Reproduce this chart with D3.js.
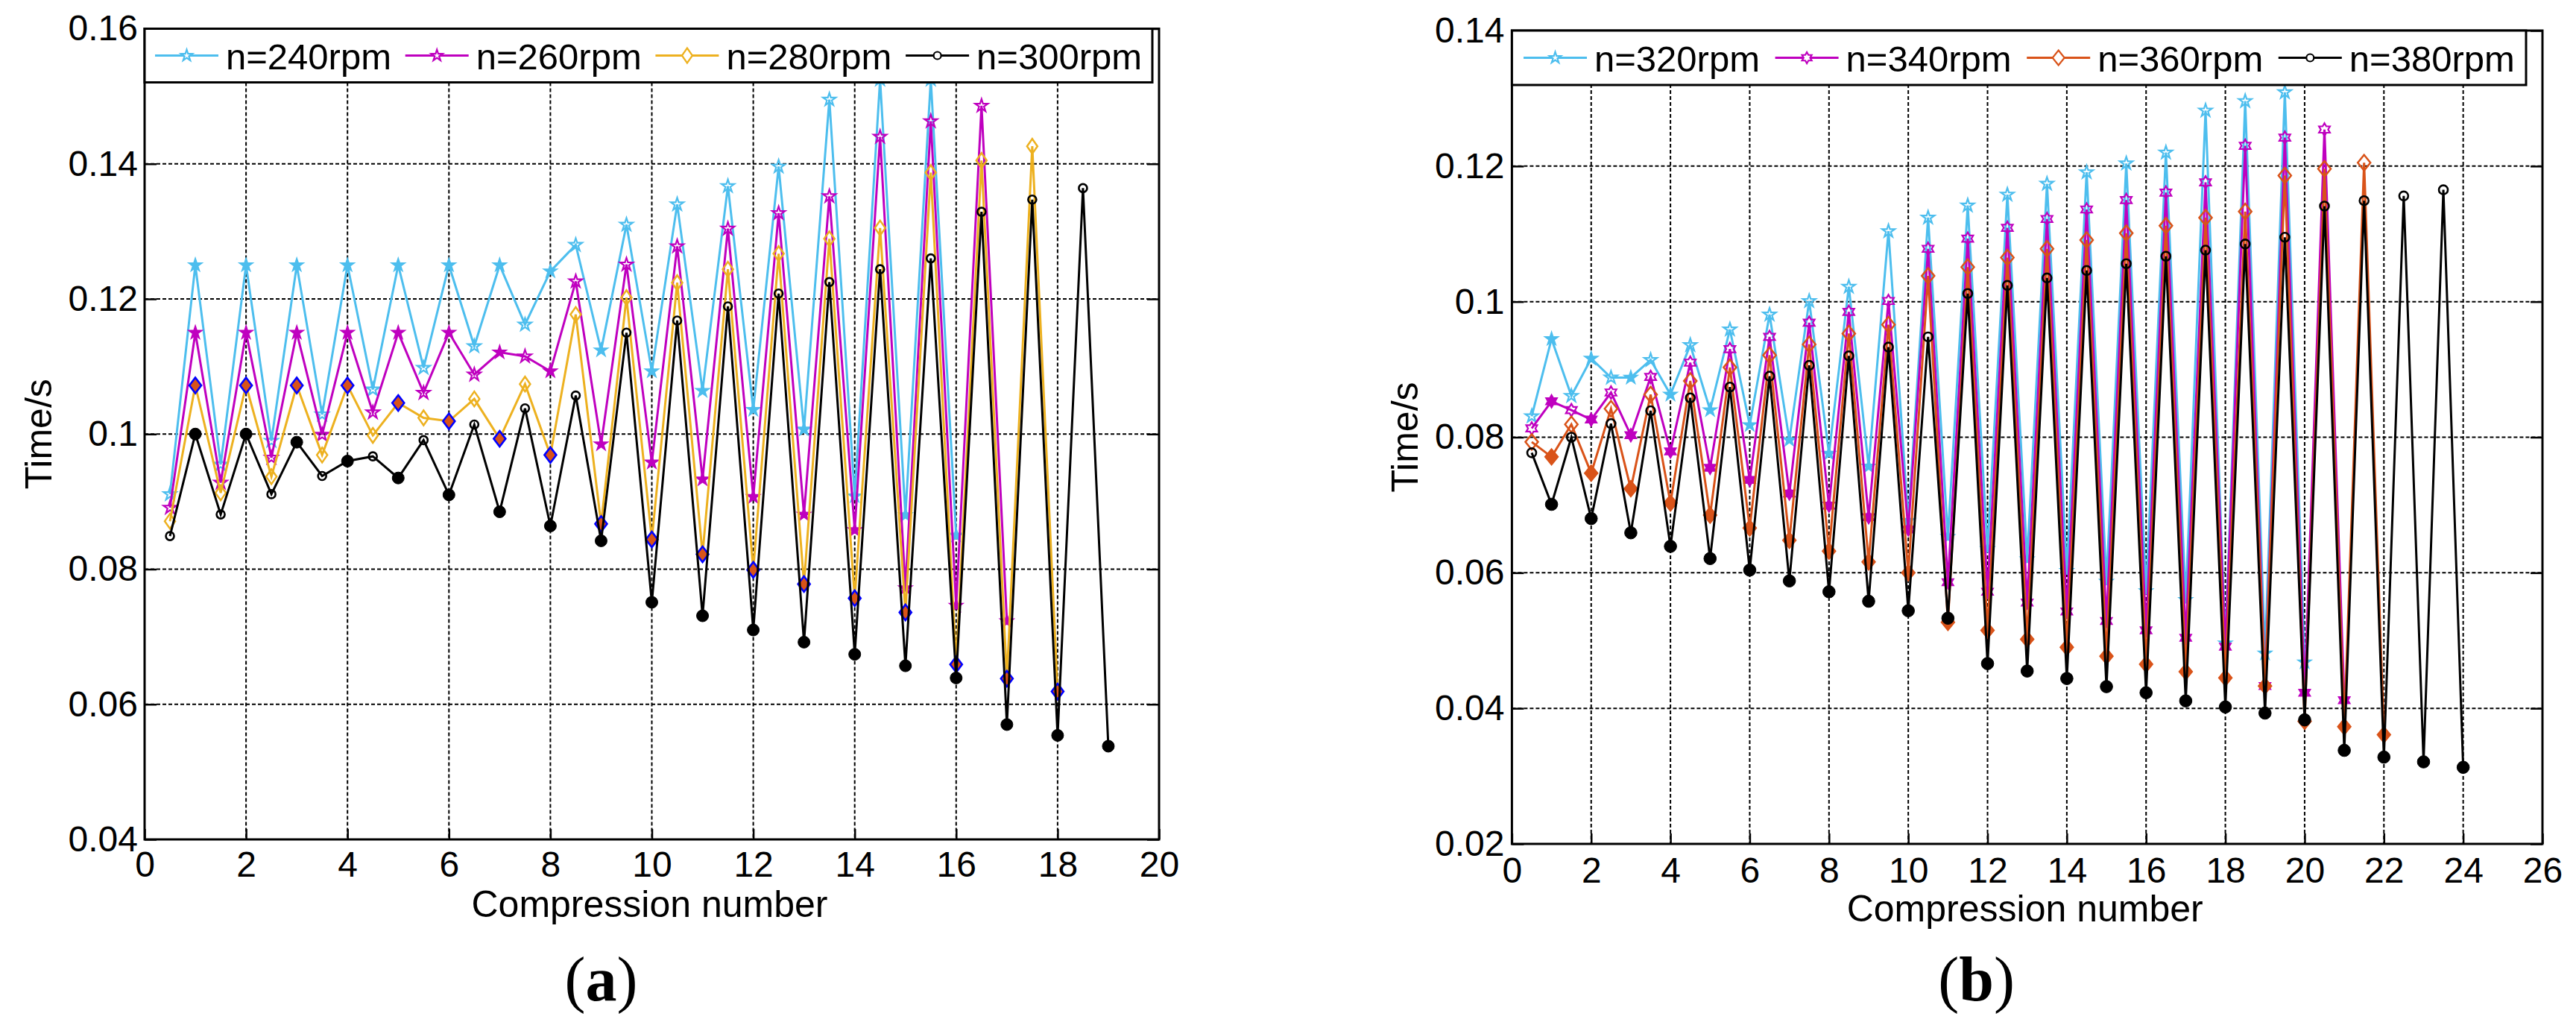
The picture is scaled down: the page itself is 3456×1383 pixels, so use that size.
<!DOCTYPE html>
<html><head><meta charset="utf-8">
<script src="https://cdn.jsdelivr.net/npm/d3@7"></script>
<style>body{margin:0;background:#fff}</style>
</head><body>
<svg id="chart" width="3456" height="1383"></svg>
<script>
// ---------- DATA ----------
const compressionA = [0.5,1,1.5,2,2.5,3,3.5,4,4.5,5,5.5,6,6.5,7,7.5,8,8.5,9,9.5,10,10.5,11,11.5,12,12.5,13,13.5,14,14.5,15,15.5,16,16.5,17,17.5,18,18.5,19];
const compressionB = [0.5,1,1.5,2,2.5,3,3.5,4,4.5,5,5.5,6,6.5,7,7.5,8,8.5,9,9.5,10,10.5,11,11.5,12,12.5,13,13.5,14,14.5,15,15.5,16,16.5,17,17.5,18,18.5,19,19.5,20,20.5,21,21.5,22,22.5,23,23.5,24];

const legendA = ["n=240rpm","n=260rpm","n=280rpm","n=300rpm"];
const legendB = ["n=320rpm","n=340rpm","n=360rpm","n=380rpm"];

const time240 = [0.0911,0.125,0.0955,0.125,0.0990,0.125,0.1029,0.125,0.1066,0.125,0.1098,0.125,0.1130,0.125,0.1162,0.1241,0.1280,0.1124,0.1310,0.1093,0.1340,0.1064,0.1367,0.1036,0.1396,0.1007,0.1495,0.0908,0.1525,0.0880,0.1525,0.0850];
const time260 = [0.0891,0.115,0.0928,0.115,0.0965,0.115,0.0999,0.115,0.1032,0.115,0.1061,0.115,0.1088,0.1121,0.1115,0.1093,0.1226,0.0985,0.1251,0.0958,0.1278,0.0933,0.1304,0.0907,0.1327,0.0881,0.1352,0.0858,0.1440,0.0772,0.1463,0.0746,0.1486,0.0723];
const time280 = [0.0871,0.1072,0.0913,0.1072,0.0937,0.1072,0.0969,0.1072,0.0998,0.1046,0.1024,0.1019,0.1052,0.0993,0.1074,0.0969,0.1177,0.0867,0.1202,0.0844,0.1224,0.0822,0.1244,0.0799,0.1267,0.0778,0.1289,0.0757,0.1305,0.0736,0.1387,0.0659,0.1405,0.0638,0.1426,0.0619];
const time300 = [0.0849,0.1000,0.0881,0.1000,0.0911,0.0988,0.0938,0.0960,0.0967,0.0935,0.0991,0.0910,0.1014,0.0885,0.1038,0.0864,0.1057,0.0842,0.1150,0.0751,0.1168,0.0731,0.1189,0.0710,0.1208,0.0692,0.1225,0.0674,0.1244,0.0657,0.1260,0.0639,0.1329,0.0570,0.1347,0.0554,0.1364,0.0538];

const time320 = [0.0831,0.0945,0.0861,0.0916,0.0888,0.0888,0.0914,0.0863,0.0936,0.0840,0.0959,0.0818,0.0981,0.0796,0.1001,0.0776,0.1022,0.0757,0.1104,0.0677,0.1124,0.0653,0.1142,0.0635,0.1158,0.0620,0.1174,0.0603,0.1191,0.0587,0.1204,0.0573,0.1220,0.0560,0.1282,0.0496,0.1296,0.0481,0.1309,0.0468];
const time340 = [0.0813,0.0853,0.0840,0.0826,0.0866,0.0803,0.0889,0.0779,0.0910,0.0755,0.0930,0.0737,0.0948,0.0717,0.0969,0.0699,0.0985,0.0682,0.1001,0.0664,0.1078,0.0586,0.1093,0.0572,0.1109,0.0556,0.1122,0.0543,0.1136,0.0529,0.1150,0.0515,0.1161,0.0504,0.1176,0.0491,0.1230,0.0433,0.1242,0.0423,0.1254,0.0412];
const time360 = [0.0793,0.0771,0.0819,0.0747,0.0842,0.0724,0.0863,0.0703,0.0883,0.0685,0.0903,0.0666,0.0921,0.0648,0.0937,0.0632,0.0953,0.0616,0.0966,0.0600,0.1038,0.0527,0.1051,0.0515,0.1065,0.0502,0.1078,0.0490,0.1091,0.0477,0.1101,0.0465,0.1112,0.0454,0.1124,0.0445,0.1133,0.0433,0.1186,0.0381,0.1196,0.0373,0.1205,0.0361];
const time380 = [0.0777,0.0701,0.0800,0.0680,0.0820,0.0659,0.0839,0.0639,0.0858,0.0621,0.0874,0.0604,0.0890,0.0588,0.0906,0.0572,0.0920,0.0558,0.0933,0.0544,0.0948,0.0533,0.1012,0.0466,0.1024,0.0455,0.1035,0.0444,0.1046,0.0432,0.1056,0.0423,0.1067,0.0411,0.1076,0.0402,0.1085,0.0393,0.1095,0.0383,0.1141,0.0338,0.1149,0.0328,0.1156,0.0321,0.1165,0.0313];

const xTicksA = [0,2,4,6,8,10,12,14,16,18,20];
const yTicksA = [0.04,0.06,0.08,0.1,0.12,0.14,0.16];
const xTicksB = [0,2,4,6,8,10,12,14,16,18,20,22,24,26];
const yTicksB = [0.02,0.04,0.06,0.08,0.1,0.12,0.14];

const xTitle = "Compression number";
const yTitle = "Time/s";

// ---------- STYLES ----------
const BLUE="#4DBEEE", MAG="#BF00BF", YEL="#EDB120", ORA="#D95319";
const stylesA = [
  {color:BLUE, shape:"pent", open:{r:9,fill:"none",stroke:BLUE,sw:2.2}, full:{r:9.5,fill:BLUE,stroke:BLUE,sw:1.5}, leg:{r:8}},
  {color:MAG, shape:"pent", open:{r:9,fill:"none",stroke:MAG,sw:2.2}, full:{r:9.5,fill:MAG,stroke:MAG,sw:1.5}, leg:{r:8}},
  {color:YEL, shape:"diamond", open:{w:7,h:10,fill:"none",stroke:YEL,sw:2.5}, full:{w:8,h:10.5,fill:ORA,stroke:"#0000FF",sw:2.6}, leg:{w:7,h:10}},
  {color:"#000", shape:"circle", open:{r:5.5,fill:"none",stroke:"#000",sw:2.6}, full:{r:8,fill:"#000",stroke:"#000",sw:1}, leg:{r:5}}
];
const stylesB = [
  {color:BLUE, shape:"pent", open:{r:9,fill:"none",stroke:BLUE,sw:2.2}, full:{r:9.5,fill:BLUE,stroke:BLUE,sw:1.5}, leg:{r:8}},
  {color:MAG, shape:"hex", open:{r:8.5,fill:"none",stroke:MAG,sw:2.2}, full:{r:9,fill:MAG,stroke:MAG,sw:1.5}, leg:{r:7.5}},
  {color:ORA, shape:"diamond", open:{w:8.5,h:10.5,fill:"none",stroke:ORA,sw:2.5}, full:{w:9,h:11,fill:ORA,stroke:ORA,sw:1.5}, leg:{w:8,h:10}},
  {color:"#000", shape:"circle", open:{r:6,fill:"none",stroke:"#000",sw:2.6}, full:{r:8.3,fill:"#000",stroke:"#000",sw:1}, leg:{r:5}}
];

function starPath(n, r, k){
  let p="";
  for(let i=0;i<2*n;i++){
    const a=-Math.PI/2+i*Math.PI/n, rr=(i%2)?r*k:r;
    p+=(i?"L":"M")+(rr*Math.cos(a)).toFixed(2)+","+(rr*Math.sin(a)).toFixed(2);
  }
  return p+"Z";
}
function markerPath(shape, s){
  if(shape==="pent") return starPath(5,s.r,0.382);
  if(shape==="hex") return starPath(6,s.r,0.577);
  if(shape==="diamond") return `M0,${-s.h}L${s.w},0L0,${s.h}L${-s.w},0Z`;
  const r=s.r; return `M${r},0A${r},${r} 0 1,1 ${-r},0A${r},${r} 0 1,1 ${r},0Z`;
}

const svg = d3.select("#chart");
const FONT = "'Liberation Sans', Arial, Helvetica, sans-serif";

function drawPanel(cfg){
  const g = svg.append("g");
  const x = d3.scaleLinear().domain(cfg.xDomain).range([cfg.left, cfg.right]);
  const y = d3.scaleLinear().domain(cfg.yDomain).range([cfg.bottom, cfg.top]);

  // grid
  const grid = g.append("g").attr("stroke","#000").attr("stroke-width",2).attr("stroke-dasharray","5,3");
  cfg.xTicks.filter(t=>t>cfg.xDomain[0] && t<cfg.xDomain[1]).forEach(t=>{
    grid.append("line").attr("x1",x(t)).attr("x2",x(t)).attr("y1",cfg.top).attr("y2",cfg.bottom);
  });
  cfg.yTicks.filter(t=>t>cfg.yDomain[0]+1e-9 && t<cfg.yDomain[1]-1e-9).forEach(t=>{
    grid.append("line").attr("x1",cfg.left).attr("x2",cfg.right).attr("y1",y(t)).attr("y2",y(t));
  });

  // series
  const line = d3.line().x(d=>x(d.x)).y(d=>y(d.y));
  cfg.series.forEach((vals, si)=>{
    const st = cfg.styles[si];
    const data = vals.map((v,i)=>({x:cfg.comp[i], y:v, full:Number.isInteger(cfg.comp[i])}));
    g.append("path").datum(data).attr("d",line).attr("fill","none")
      .attr("stroke",st.color).attr("stroke-width",3).attr("stroke-linejoin","miter");
    g.append("g").selectAll("path").data(data).join("path")
      .attr("transform",d=>`translate(${x(d.x)},${y(d.y)})`)
      .attr("d",d=>markerPath(st.shape, d.full?st.full:st.open))
      .attr("fill",d=>(d.full?st.full:st.open).fill)
      .attr("stroke",d=>(d.full?st.full:st.open).stroke)
      .attr("stroke-width",d=>(d.full?st.full:st.open).sw);
  });

  // axes (ticks inward)
  const ax = g.append("g").attr("font-family",FONT);
  const bottomAxis = d3.axisBottom(x).tickValues(cfg.xTicks).tickSizeInner(-14).tickSizeOuter(0)
      .tickPadding(cfg.xPad).tickFormat(d=>String(d));
  const leftAxis = d3.axisLeft(y).tickValues(cfg.yTicks).tickSizeInner(-16).tickSizeOuter(0)
      .tickPadding(cfg.yPad).tickFormat(d=>String(+d.toFixed(2)));
  const rightAxis = d3.axisRight(y).tickValues(cfg.yTicks).tickSizeInner(-16).tickSizeOuter(0).tickFormat("");
  const ab = ax.append("g").attr("transform",`translate(0,${cfg.bottom})`).call(bottomAxis);
  const al = ax.append("g").attr("transform",`translate(${cfg.left},0)`).call(leftAxis);
  const ar = ax.append("g").attr("transform",`translate(${cfg.right},0)`).call(rightAxis);
  [ab,al,ar].forEach(a=>{
    a.select(".domain").remove();
    a.selectAll(".tick line").attr("stroke","#000").attr("stroke-width",2.5);
    a.selectAll(".tick text").attr("fill","#000").attr("font-size",48).attr("font-family",FONT);
  });

  // frame
  g.append("rect").attr("x",cfg.left).attr("y",cfg.top)
    .attr("width",cfg.right-cfg.left).attr("height",cfg.bottom-cfg.top)
    .attr("fill","none").attr("stroke","#000").attr("stroke-width",3);

  // legend
  const lg = g.append("g");
  lg.append("rect").attr("x",cfg.left).attr("y",cfg.top).attr("width",cfg.legW).attr("height",cfg.legH)
    .attr("fill","#fff").attr("stroke","#000").attr("stroke-width",3);
  const cy = cfg.top + cfg.legH/2;
  cfg.names.forEach((name,i)=>{
    const st = cfg.styles[i];
    const x0 = cfg.left + cfg.legPad + i*cfg.legStep;
    lg.append("line").attr("x1",x0).attr("x2",x0+85).attr("y1",cy).attr("y2",cy)
      .attr("stroke",st.color).attr("stroke-width",3);
    const ms = Object.assign({}, st.leg);
    lg.append("path").attr("transform",`translate(${x0+42.5},${cy})`)
      .attr("d",markerPath(st.shape, ms)).attr("fill","#fff").attr("stroke",st.color).attr("stroke-width",2.2);
    lg.append("text").attr("x",x0+95).attr("y",cy+18).attr("font-family",FONT).attr("font-size",49)
      .attr("fill","#000").text(name);
  });

  // titles
  g.append("text").attr("x",(cfg.left+cfg.right)/2-3).attr("y",cfg.xTitleY)
    .attr("text-anchor","middle").attr("font-family",FONT).attr("font-size",50).attr("fill","#000").text(xTitle);
  g.append("text").attr("transform",`translate(${cfg.yTitleX},${(cfg.top+cfg.bottom)/2}) rotate(-90)`)
    .attr("text-anchor","middle").attr("font-family",FONT).attr("font-size",50).attr("fill","#000").text(yTitle);

  // panel label
  const pl = g.append("text").attr("x",(cfg.left+cfg.right)/2-68).attr("y",1342)
    .attr("text-anchor","middle").attr("font-family","'Liberation Serif','Times New Roman',serif")
    .attr("font-size",84).attr("fill","#000");
  pl.append("tspan").text("(");
  pl.append("tspan").attr("font-weight","bold").text(cfg.label);
  pl.append("tspan").text(")");
}

drawPanel({
  left:194, right:1555, top:38.5, bottom:1126,
  xDomain:[0,20], yDomain:[0.04,0.16], xTicks:xTicksA, yTicks:yTicksA,
  comp:compressionA, series:[time240,time260,time280,time300], styles:stylesA, names:legendA,
  xPad:16, yPad:9, legW:1352, legH:72, legPad:14, legStep:335.7,
  xTitleY:1230, yTitleX:69, label:"a"
});
drawPanel({
  left:2028.4, right:3411, top:41, bottom:1132,
  xDomain:[0,26], yDomain:[0.02,0.14], xTicks:xTicksB, yTicks:yTicksB,
  comp:compressionB, series:[time320,time340,time360,time380], styles:stylesB, names:legendB,
  xPad:18, yPad:10, legW:1360.6, legH:73, legPad:15.6, legStep:337.6,
  xTitleY:1236, yTitleX:1902, label:"b"
});
</script>
</body></html>
